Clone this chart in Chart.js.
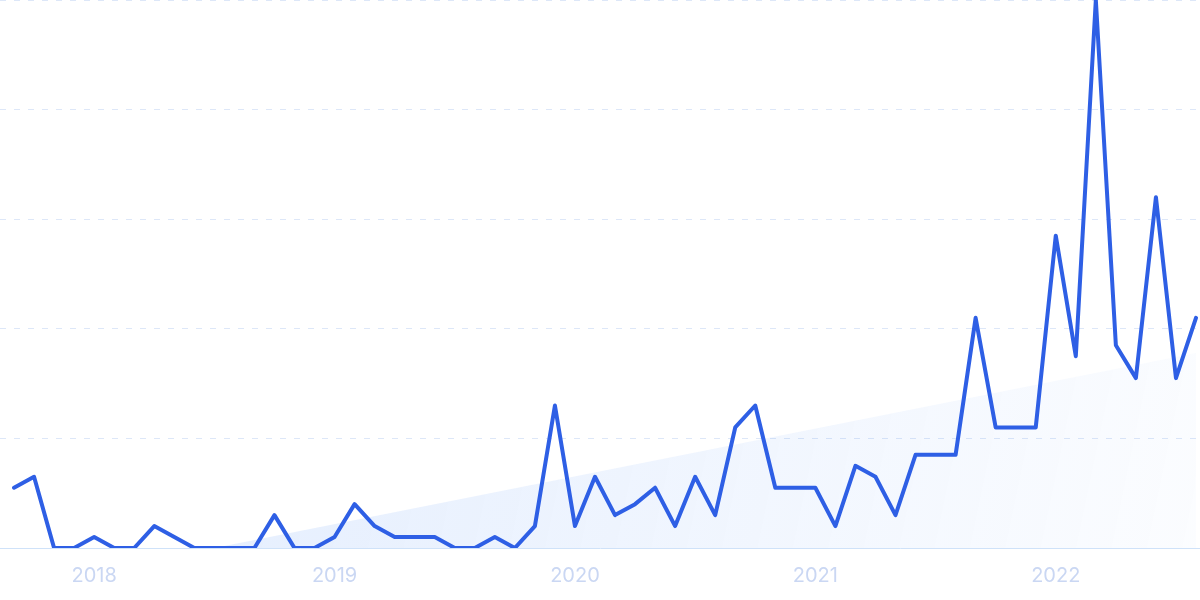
<html>
<head>
  <title>Trend</title>
  <script src="https://cdn.jsdelivr.net/npm/chart.js"></script>
  <style>
    body {
      margin: 0;
      background-color: white;
    }
    .box {
      width: 1200px;
      height: 600px;
    }
  </style>
</head>
<body>
  <div class="box">
    <canvas id="grafico"></canvas>
  </div>
  <script>
    // mesi da Set 2017 ad Ago 2022
    var mesi = [
      "2017-09", "2017-10", "2017-11", "2017-12",
      "2018-01", "2018-02", "2018-03", "2018-04", "2018-05", "2018-06", "2018-07", "2018-08", "2018-09", "2018-10", "2018-11", "2018-12",
      "2019-01", "2019-02", "2019-03", "2019-04", "2019-05", "2019-06", "2019-07", "2019-08", "2019-09", "2019-10", "2019-11", "2019-12",
      "2020-01", "2020-02", "2020-03", "2020-04", "2020-05", "2020-06", "2020-07", "2020-08", "2020-09", "2020-10", "2020-11", "2020-12",
      "2021-01", "2021-02", "2021-03", "2021-04", "2021-05", "2021-06", "2021-07", "2021-08", "2021-09", "2021-10", "2021-11", "2021-12",
      "2022-01", "2022-02", "2022-03", "2022-04", "2022-05", "2022-06", "2022-07", "2022-08"
    ];

    // valori della serie (0-100)
    var valori = [
      11, 13, 0, 0,
      2, 0, 0, 4, 2, 0, 0, 0, 0, 6, 0, 0,
      2, 8, 4, 2, 2, 2, 0, 0, 2, 0, 4, 26,
      4, 13, 6, 8, 11, 4, 13, 6, 22, 26, 11, 11,
      11, 4, 15, 13, 6, 17, 17, 17, 42, 22, 22, 22,
      57, 35, 100, 37, 31, 64, 31, 42
    ];

    // linea di tendenza: inizio e fine
    var tendenzaMesi = ["2018-07", "2022-08"];
    var tendenzaValori = [0, 35.6];

    // etichette dell'asse x
    var etichetteAnni = ["2018", "2019", "2020", "2021", "2022"];
    var mesiEtichette = ["2018-01", "2019-01", "2020-01", "2021-01", "2022-01"];

    var yTicks = [0, 20, 40, 60, 80, 100];

    var puntiSerie = valori.map(function (v, i) { return { x: i, y: v }; });
    var puntiTendenza = tendenzaMesi.map(function (m, i) {
      return { x: mesi.indexOf(m), y: tendenzaValori[i] };
    });
    var posEtichette = mesiEtichette.map(function (m) { return mesi.indexOf(m); });

    new Chart(document.getElementById('grafico'), {
      type: 'line',
      data: {
        datasets: [{
          data: puntiSerie,
          borderColor: '#2E5FE5',
          borderWidth: 4,
          borderJoinStyle: 'round',
          borderCapStyle: 'round',
          pointRadius: 0,
          tension: 0,
          fill: false,
          order: 1
        }, {
          data: puntiTendenza,
          borderWidth: 0,
          borderColor: 'rgba(0,0,0,0)',
          pointRadius: 0,
          fill: 'origin',
          order: 2,
          backgroundColor: function (context) {
            var area = context.chart.chartArea;
            if (!area) return 'rgba(59,130,246,0.08)';
            var g = context.chart.ctx.createLinearGradient(area.left + 250, area.top + 350, area.right, area.bottom);
            g.addColorStop(0, 'rgba(59,130,246,0.13)');
            g.addColorStop(1, 'rgba(59,130,246,0.02)');
            return g;
          }
        }]
      },
      options: {
        responsive: true,
        maintainAspectRatio: false,
        animation: false,
        layout: { padding: 0 },
        plugins: {
          legend: { display: false },
          tooltip: { enabled: false }
        },
        scales: {
          x: {
            type: 'linear',
            min: -0.7,
            max: 59.2,
            afterBuildTicks: function (scale) {
              scale.ticks = posEtichette.map(function (p) { return { value: p }; });
            },
            afterFit: function (scale) {
              scale.height = 52;
            },
            ticks: {
              autoSkip: false,
              maxRotation: 0,
              padding: 16,
              color: '#CAD7F3',
              font: { family: 'Inter', size: 20 },
              callback: function (value) {
                var k = posEtichette.indexOf(value);
                return k >= 0 ? etichetteAnni[k] : '';
              }
            },
            grid: { display: false, drawTicks: false },
            border: { display: true, color: '#CFE2F9', width: 1 }
          },
          y: {
            min: 0,
            max: 100,
            afterBuildTicks: function (scale) {
              scale.ticks = yTicks.map(function (v) { return { value: v }; });
            },
            ticks: { display: false },
            grid: {
              drawTicks: false,
              color: function (ctx) {
                return ctx.tick && ctx.tick.value === 0 ? 'rgba(0,0,0,0)' : '#DDE7F8';
              },
              lineWidth: 1
            },
            border: { display: false, dash: [6, 8] }
          }
        }
      }
    });
  </script>
</body>
</html>
